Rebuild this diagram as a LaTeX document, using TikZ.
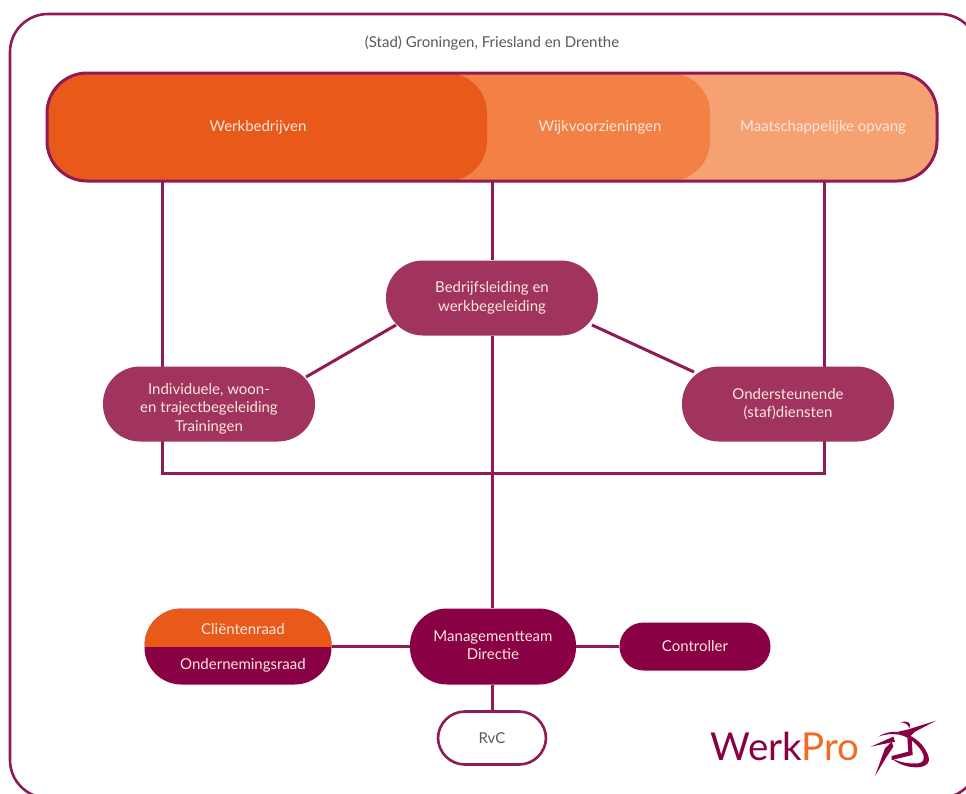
\documentclass[tikz,border=0pt]{standalone}
\usepackage{fontspec}
\usepackage{xcolor}
\setmainfont{Lato}
\usetikzlibrary{backgrounds}
\definecolor{wpdark}{HTML}{8A0044}
\definecolor{wpline}{HTML}{8F1A55}
\definecolor{wpberry}{HTML}{A0345F}
\definecolor{wporange}{HTML}{E95A1A}
\definecolor{wplogo}{HTML}{F26A24}
\definecolor{wpmid}{HTML}{F38146}
\definecolor{wplight}{HTML}{F5A172}
\definecolor{wptext}{HTML}{FBE6DC}
\begin{document}
\begin{tikzpicture}[x=1pt,y=-1pt,semithick,font=\fontsize{15}{18.5}\selectfont]
    \useasboundingbox (0,0) rectangle (966,793);
    \tikzstyle{pill}=[shape=rectangle, rounded corners=37, align=center, text=wptext, inner sep=0pt]
    \tikzstyle{band}=[shape=rectangle, rounded corners=40, minimum height=108, inner sep=0pt]
    \tikzstyle{wire}=[draw=wpline, line width=3pt]
    \tikzstyle{bandlabel}=[text=wptext]
    \node[shape=rectangle, rounded corners=38, draw=wpline, line width=2.6pt, minimum width=968, minimum height=784, inner sep=0pt] (frame) at (494, 406){};
    \node[text=black!65] (region) at (492, 43){(Stad) Groningen, Friesland en Drenthe};
    \node[band, fill=wplight, minimum width=890] (banner) at (492, 127){};
    \node[band, fill=wpmid, minimum width=300] (wijkband) at (560, 127){};
    \node[band, fill=wporange, minimum width=440] (werkband) at (267, 127){};
    \node[band, draw=wpline, line width=3pt, minimum width=890] (outline) at (492, 127){};
    \node[bandlabel] (werk) at (258, 127){Werkbedrijven};
    \node[bandlabel] (wijk) at (600, 127){Wijkvoorzieningen};
    \node[bandlabel] (opvang) at (823, 127){Maatschappelijke opvang};
    \node[pill, fill=wpberry, minimum width=212, minimum height=75] (leiding) at (492, 298){Bedrijfsleiding en\\werkbegeleiding};
    \node[pill, fill=wpberry, minimum width=212, minimum height=75] (indiv) at (209, 404){\rule{0pt}{20pt}Individuele, woon-\\en trajectbegeleiding\\Trainingen};
    \node[pill, fill=wpberry, minimum width=212, minimum height=75] (staf) at (788, 404){Ondersteunende\\(staf)diensten};
    \node[pill, fill=wpdark, minimum width=187, minimum height=76,
        path picture={\fill[wporange, sharp corners] (path picture bounding box.north west) rectangle (path picture bounding box.east);}] (raad) at (238, 646.5){};
    \node[text=wptext] (client) at (243, 629){Cliëntenraad};
    \node[text=wptext] (or) at (243, 665){Ondernemingsraad};
    \node[pill, fill=wpdark, minimum width=166, minimum height=76] (mt) at (493, 646.5){Managementteam\\Directie\rule[-3pt]{0pt}{0pt}};
    \node[pill, rounded corners=24, fill=wpdark, minimum width=151, minimum height=48] (contr) at (695, 646.5){Controller};
    \node[pill, rounded corners=27, fill=white, draw=wpline, line width=2.6pt, text=black!65, minimum width=108, minimum height=53] (rvc) at (492, 738){RvC};
    \coordinate (linksboven) at (162, 181);
    \coordinate (linksonder) at (162, 473);
    \coordinate (rechtsboven) at (824, 181);
    \coordinate (rechtsonder) at (824, 473);
    \coordinate (midboven) at (492, 181);
    \coordinate (l1) at (396, 325);
    \coordinate (l2) at (306, 377);
    \coordinate (r1) at (592, 325);
    \coordinate (r2) at (694, 372);
    \path[wire] (midboven) edge (leiding);
    \path[wire] (l1) edge (l2);
    \path[wire] (r1) edge (r2);
    \path[wire] (raad.east) edge (mt.west);
    \path[wire] (mt) edge (contr);
    \path[wire] (rvc) edge (rvc |- mt.south);
    \begin{scope}[on background layer]
    \draw[wire] (linksboven) -- (linksonder) -- (rechtsonder) -- (rechtsboven);
    \draw[wire] (leiding) -- (leiding |- mt.north);
    \end{scope}
    \node[anchor=west, inner sep=0pt, font=\fontsize{38.5}{38.5}\selectfont] (logo) at (710, 746){\textcolor{wpdark}{Werk}\textcolor{wplogo}{Pro}};
    \begin{scope}[shift={(660,690)}, scale=1/3]
    \fill[wpdark] (655,140) .. controls (700,110) and (760,130) .. (790,170) .. controls (815,205) and (815,230) .. (770,232) .. controls (740,232) and (715,222) .. (695,205) .. controls (720,218) and (750,222) .. (775,220) .. controls (800,215) and (795,190) .. (770,165) .. controls (740,130) and (695,125) .. (655,140);
    \fill[wpdark] (632,170) -- (700,140) -- (705,155) -- cycle;
    \fill[wpdark] (645,258) -- (675,175) -- (695,155) -- (700,170) -- (680,200) -- cycle;
    \fill[wpdark] (828,92) -- (745,118) -- (715,125) -- (745,145) -- (765,125) -- cycle;
    \fill[wpdark] (722,97) .. controls (745,90) and (755,100) .. (748,115) .. controls (745,103) and (735,97) .. (722,97);
    \fill[wpdark] (742,145) -- (755,145) -- (758,195) -- (695,210) -- (695,198) -- (745,185) -- cycle;
    \end{scope}
\end{tikzpicture}
\end{document}
